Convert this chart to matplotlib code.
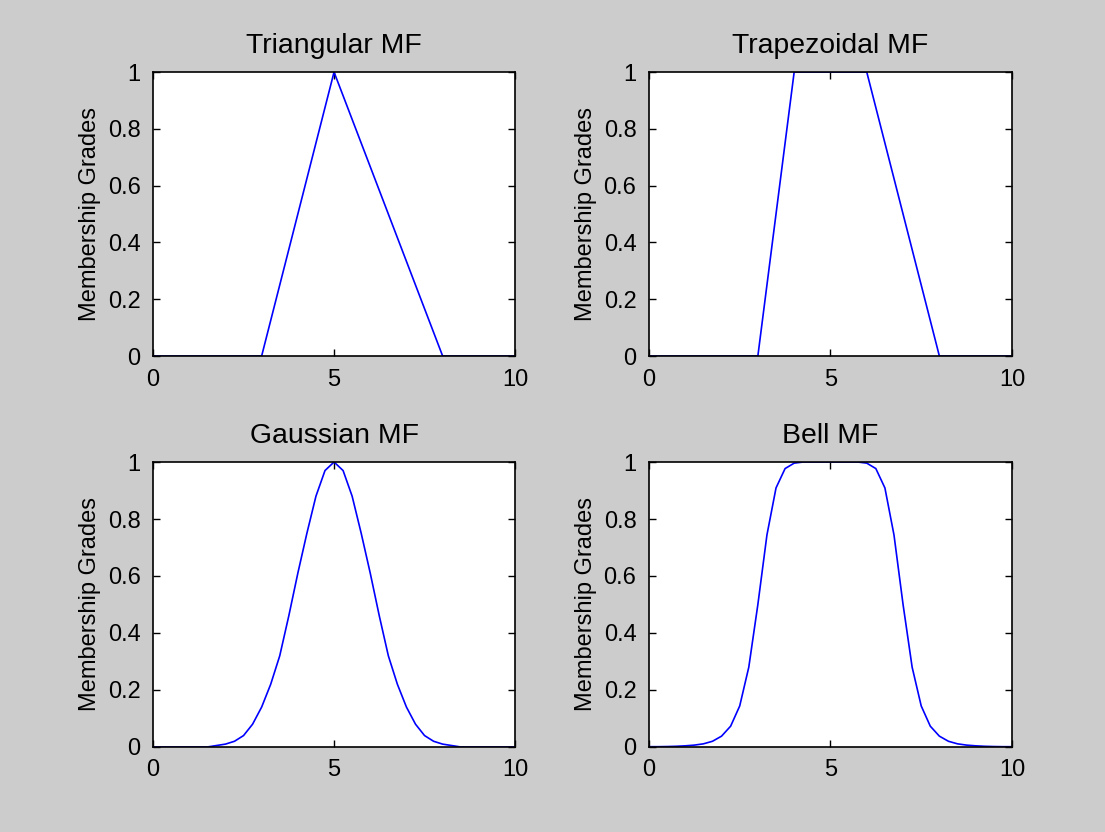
import matplotlib
matplotlib.use('Agg')
import matplotlib.pyplot as plt

plt.rcParams['font.family'] = ['Liberation Sans', 'DejaVu Sans']
plt.rcParams['font.size'] = 17

# Triangular MF (corner points)
tri_x = [0, 3, 5, 8, 10]
tri_y = [0, 0, 1, 0, 0]

# Trapezoidal MF (corner points)
trap_x = [0, 3, 4, 6, 8, 10]
trap_y = [0, 0, 1, 1, 0, 0]

# Gaussian and Bell MFs, read at 0.25 steps
curve_x = [0, 0.25, 0.5, 0.75, 1, 1.25, 1.5, 1.75, 2, 2.25, 2.5, 2.75, 3, 3.25,
           3.5, 3.75, 4, 4.25, 4.5, 4.75, 5, 5.25, 5.5, 5.75, 6, 6.25, 6.5,
           6.75, 7, 7.25, 7.5, 7.75, 8, 8.25, 8.5, 8.75, 9, 9.25, 9.5, 9.75, 10]
gauss_y = [0, 0, 0, 0, 0, 0, 0, 0.005, 0.01, 0.02, 0.04, 0.08, 0.14, 0.22,
           0.32, 0.46, 0.61, 0.75, 0.88, 0.97, 1.0, 0.97, 0.88, 0.75, 0.61,
           0.46, 0.32, 0.22, 0.14, 0.08, 0.04, 0.02, 0.01, 0.005, 0, 0, 0,
           0, 0, 0, 0]
bell_y = [0.001, 0.001, 0.0015, 0.0024, 0.004, 0.0065, 0.011, 0.02, 0.038,
          0.073, 0.144, 0.28, 0.5, 0.744, 0.909, 0.977, 0.996, 1.0, 1.0, 1.0,
          1.0, 1.0, 1.0, 1.0, 0.996, 0.977, 0.909, 0.744, 0.5, 0.28, 0.144,
          0.073, 0.038, 0.02, 0.011, 0.0065, 0.004, 0.0024, 0.0015, 0.001,
          0.001]

titles = ['Triangular MF', 'Trapezoidal MF', 'Gaussian MF', 'Bell MF']
series = [(tri_x, tri_y), (trap_x, trap_y), (curve_x, gauss_y), (curve_x, bell_y)]

fig = plt.figure(figsize=(11.05, 8.32), dpi=100, facecolor='#cccccc')
boxes = [[0.1385, 0.5721, 0.3276, 0.3413],
         [0.5873, 0.5721, 0.3285, 0.3413],
         [0.1385, 0.1022, 0.3276, 0.3425],
         [0.5873, 0.1022, 0.3285, 0.3425]]

for box, title, (xs, ys) in zip(boxes, titles, series):
    ax = fig.add_axes(box)
    ax.plot(xs, ys, color='#0000ff', linewidth=1.2)
    ax.set_xlim(0, 10)
    ax.set_ylim(0, 1)
    ax.set_xticks([0, 5, 10])
    ax.set_yticks([0, 0.2, 0.4, 0.6, 0.8, 1])
    ax.set_yticklabels(['0', '0.2', '0.4', '0.6', '0.8', '1'])
    ax.tick_params(direction='in', top=True, right=True, length=5, width=1, pad=9)
    for sp in ax.spines.values():
        sp.set_linewidth(1.2)
    ax.set_title(title, pad=14)
    ax.set_ylabel('Membership Grades', labelpad=5)

fig.savefig('out.png', dpi=100, facecolor=fig.get_facecolor())
